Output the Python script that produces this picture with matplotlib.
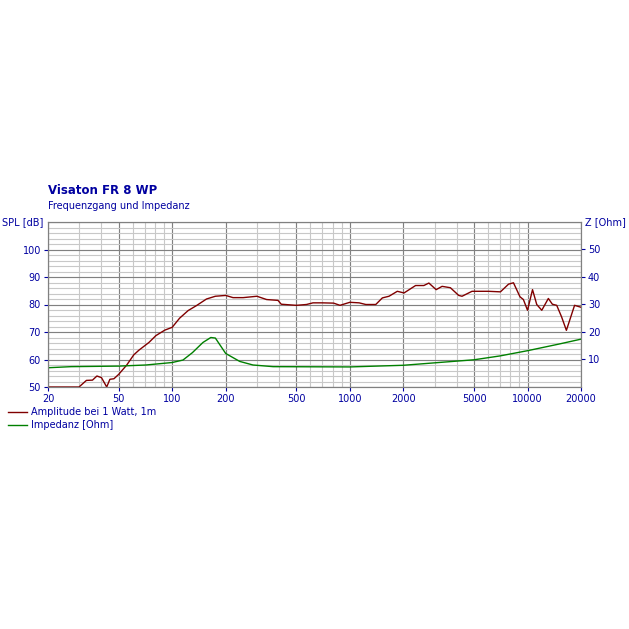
import matplotlib
matplotlib.use("Agg")
import matplotlib.pyplot as plt
import numpy as np

spl_f = [20, 29.9, 32.9, 35.6, 37.7, 40, 42.8, 44.6, 47, 50, 55.5, 60.8, 65, 74, 81, 91, 100, 110, 123, 137, 156, 175, 200, 220, 251, 300, 340, 394, 411, 500, 570, 620, 700, 810, 880, 1000, 1128, 1230, 1399, 1524, 1661, 1850, 2018, 2344, 2609, 2785, 3060, 3305, 3680, 4100, 4280, 4870, 6040, 7040, 7820, 8335, 9070, 9480, 10000, 10670, 11270, 12030, 13100, 13800, 14600, 15550, 16550, 18400, 20000]
spl_db = [50, 50, 52.4, 52.5, 54, 53.4, 50, 52.8, 53, 54.6, 58, 61.7, 63.4, 66.2, 68.7, 70.7, 71.7, 75, 77.8, 79.6, 82, 83, 83.3, 82.5, 82.5, 83, 81.8, 81.5, 80.1, 79.7, 80, 80.6, 80.6, 80.5, 79.7, 80.8, 80.6, 80, 80, 82.4, 83, 84.8, 84.2, 86.9, 86.9, 87.8, 85.4, 86.6, 86.1, 83.3, 83, 84.8, 84.8, 84.6, 87.4, 87.9, 82.8, 81.8, 77.9, 85.4, 80, 77.9, 82.2, 80.1, 79.7, 75.5, 70.6, 79.7, 79]

imp_f = [20, 27, 50, 71, 100, 115, 130, 149, 165, 175, 200, 240, 285, 370, 1000, 2000, 5000, 7000, 10000, 15000, 20000]
imp_ohm = [7, 7.4, 7.6, 8, 8.9, 9.8, 12.5, 16.2, 18, 17.8, 12.2, 9.3, 8, 7.4, 7.3, 7.9, 9.9, 11.3, 13.2, 15.6, 17.4]

x_ticks = [20, 50, 100, 200, 500, 1000, 2000, 5000, 10000, 20000]
spl_ticks = [50, 60, 70, 80, 90, 100]
z_ticks = [10, 20, 30, 40, 50]

blue = "#0000a0"
fs = 7
fig = plt.figure(figsize=(6.29, 6.29), dpi=100)
ax = fig.add_axes([48/629, 1-387/629, 533/629, 165/629])
ax.set_xscale("log")
ax.set_xlim(20, 20000)
ax.set_ylim(50, 110)

minor_x = [m*10**e for e in range(1, 5) for m in range(1, 10) if 20 <= m*10**e <= 20000]
for v in minor_x:
    ax.axvline(v, color="#c8c8c8", lw=0.8, zorder=0)
for v in x_ticks:
    ax.axvline(v, color="#808080", lw=0.8, zorder=0)
for v in range(50, 111, 2):
    ax.axhline(v, color="#c8c8c8", lw=0.8, zorder=0)
for v in range(50, 111, 10):
    ax.axhline(v, color="#808080", lw=0.8, zorder=0)

ax.plot(spl_f, spl_db, color="#800000", lw=1.0, label="Amplitude bei 1 Watt, 1m")
ax.plot(imp_f, [50 + z for z in imp_ohm], color="#008000", lw=1.0, label="Impedanz [Ohm]")

ax.set_xticks(x_ticks)
ax.set_xticklabels([str(t) for t in x_ticks])
ax.xaxis.set_minor_locator(matplotlib.ticker.NullLocator())
ax.set_yticks(spl_ticks)
ax.set_yticklabels([str(t) for t in spl_ticks])
ax.tick_params(colors=blue, labelsize=fs, length=3, labelcolor=blue, pad=2)
for s in ax.spines.values():
    s.set_color("#808080")

ax2 = ax.twinx()
ax2.set_ylim(0, 60)
ax2.set_yticks(z_ticks)
ax2.set_yticklabels([str(t) for t in z_ticks])
ax2.tick_params(colors=blue, labelsize=fs, length=3, labelcolor=blue, pad=2)
for s in ax2.spines.values():
    s.set_color("#808080")

fig.text(48/629, 1-190/629, "Visaton FR 8 WP", color=blue, fontsize=8.5, fontweight="bold", va="center")
fig.text(48/629, 1-206/629, "Frequenzgang und Impedanz", color=blue, fontsize=fs, va="center")
fig.text(2/629, 1-222/629, "SPL [dB]", color=blue, fontsize=fs, va="center")
fig.text(585/629, 1-222/629, "Z [Ohm]", color=blue, fontsize=fs, va="center")

leg = ax.legend(loc="upper left", bbox_to_anchor=(-40/533, -20/165), frameon=False,
                fontsize=fs, handlelength=2.0, handletextpad=0.4, borderpad=0, labelspacing=0.35,
                borderaxespad=0)
for t in leg.get_texts():
    t.set_color(blue)

fig.savefig("out.png", dpi=100, facecolor="white")
